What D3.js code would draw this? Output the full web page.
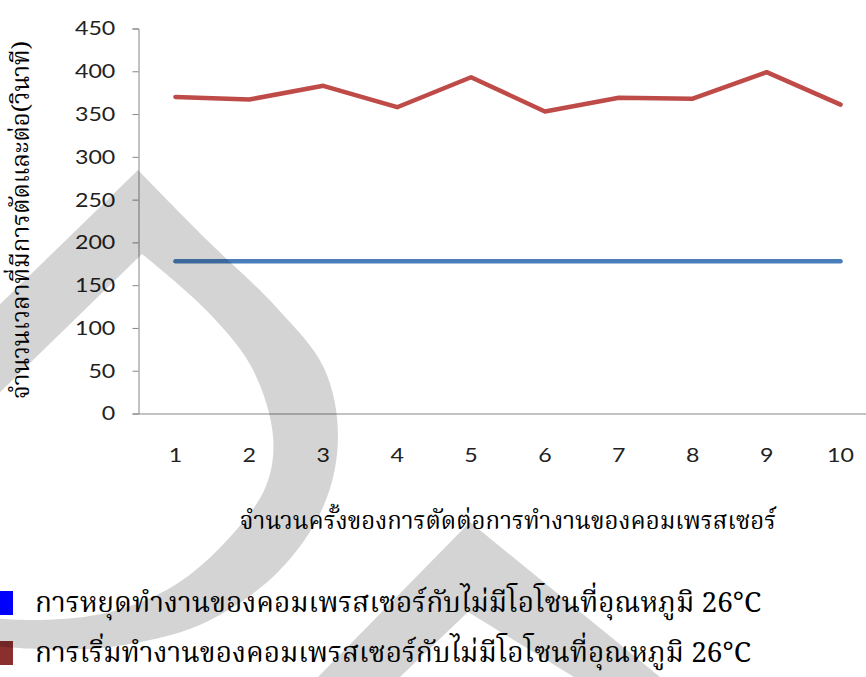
<!DOCTYPE html>
<html>
<head>
<meta charset="utf-8">
<script src="https://cdn.jsdelivr.net/npm/d3@7"></script>
<style>
  html, body { margin: 0; padding: 0; background: #fff; }
  svg { display: block; }
</style>
</head>
<body>
<svg id="chart" width="866" height="677"></svg>
<script>
// Compressor on/off timing at 26 °C without ozone
const categories = ["1", "2", "3", "4", "5", "6", "7", "8", "9", "10"];
const stopSeries = [178, 178, 178, 178, 178, 178, 178, 178, 178, 178];
const startSeries = [370, 367, 383, 358, 393, 353, 369, 368, 399, 361];
const yTicks = [0, 50, 100, 150, 200, 250, 300, 350, 400, 450];

const yTitle = "จำนวนเวลาที่มีการตัดและต่อ(วินาที)";
const xTitle = "จำนวนครั้งของการตัดต่อการทำงานของคอมเพรสเซอร์";
const legendLabels = [
  "การหยุดทำงานของคอมเพรสเซอร์กับไม่มีโอโซนที่อุณหภูมิ 26°C",
  "การเริ่มทำงานของคอมเพรสเซอร์กับไม่มีโอโซนที่อุณหภูมิ 26°C"
];
const lineColors = ["#4A7EBB", "#BE4B48"];
const swatchColors = ["#0000FF", "#8B2E2E"];

const svg = d3.select("#chart");
const thaiFont = "'Noto Serif Thai', 'Noto Sans Thai', 'Tlwg Typo', 'Norasi', 'Liberation Serif', 'DejaVu Serif', serif";
const tickFont = "Lato, 'Open Sans', sans-serif";

const x = d3.scaleBand().domain(categories).range([138.5, 877.5]).paddingInner(0).paddingOuter(0);
const y = d3.scaleLinear().domain([0, 450]).range([413.5, 28.5]);

// y axis
const yAxis = svg.append("g")
  .attr("transform", "translate(138.5,0)")
  .call(d3.axisLeft(y).tickValues(yTicks).tickSize(6).tickPadding(14).tickFormat(d3.format("d")));
yAxis.select(".domain").attr("stroke", "#868686");
yAxis.selectAll(".tick line").attr("stroke", "#868686");
yAxis.selectAll(".tick text")
  .attr("font-family", tickFont).attr("font-size", 20).attr("fill", "#222")
  .attr("transform", "scale(1.16,1)");

// x axis
const xAxis = svg.append("g")
  .attr("transform", "translate(0,413.5)")
  .call(d3.axisBottom(x).tickSize(0).tickPadding(34));
xAxis.select(".domain").attr("stroke", "#868686");
xAxis.selectAll(".tick text")
  .attr("font-family", tickFont).attr("font-size", 20).attr("fill", "#222")
  .attr("transform", "scale(1.16,1)");

// series lines
const line = d3.line()
  .x((d, i) => x(categories[i]) + x.bandwidth() / 2)
  .y(d => y(d));

[stopSeries, startSeries].forEach((s, k) => {
  svg.append("path")
    .datum(s)
    .attr("fill", "none")
    .attr("stroke", lineColors[k])
    .attr("stroke-width", 4.5)
    .attr("stroke-linecap", "round")
    .attr("stroke-linejoin", "round")
    .attr("d", line);
});

// axis titles
svg.append("text")
  .attr("transform", "translate(29,220) rotate(-90)")
  .attr("text-anchor", "middle")
  .attr("font-family", thaiFont).attr("font-size", 24).attr("fill", "#000")
  .text(yTitle);

svg.append("text")
  .attr("x", 508).attr("y", 529)
  .attr("text-anchor", "middle")
  .attr("font-family", thaiFont).attr("font-size", 24).attr("fill", "#000")
  .text(xTitle);

// legend
const legend = svg.append("g");
legendLabels.forEach((lab, i) => {
  const row = legend.append("g").attr("transform", `translate(0,${603 + i * 50})`);
  row.append("rect").attr("x", -7).attr("y", -12).attr("width", 20).attr("height", 24)
    .attr("fill", swatchColors[i]);
  row.append("text").attr("x", 35).attr("y", 9)
    .attr("font-family", thaiFont).attr("font-size", 28).attr("fill", "#000")
    .text(lab);
});

// watermark overlay (droplet and chevron)
const wm = svg.append("g").attr("fill", "#000").attr("fill-opacity", 0.17).attr("pointer-events", "none");
const smooth = d3.line().curve(d3.curveCatmullRom.alpha(0.5));
const dropOuter = [[138, 170], [207, 240], [277, 308], [324, 368], [338, 436], [324, 505], [278, 572], [202, 624], [110, 647], [40, 649], [-10, 646]];
const dropInner = [[-10, 618], [40, 620], [110, 612], [175, 585], [230, 537], [266, 486], [273, 436], [252, 368], [207, 311], [142, 254]];
wm.append("path").attr("d",
  "M-10,314L138,170" + smooth(dropOuter).replace(/^M/, "L") +
  smooth(dropInner).replace(/^M/, "L") + "L-10,402Z");
wm.append("path").attr("d", "M470,522L318,677L400,677L468,612L574,677L660,677Z");
</script>
</body>
</html>
